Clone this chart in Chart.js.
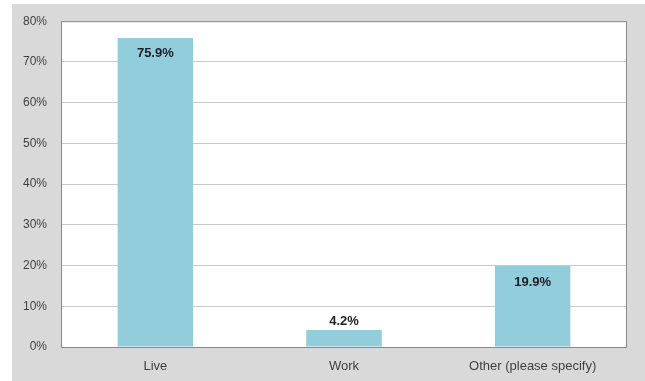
<!DOCTYPE html>
<html>
<head>
<meta charset="utf-8">
<script src="https://cdn.jsdelivr.net/npm/chart.js@4/dist/chart.umd.min.js"></script>
<style>
  body { margin: 0; background: #fff; }
  canvas { display: block; }
</style>
</head>
<body>
<canvas id="myChart" width="645" height="381"></canvas>
<script>
// answers to "live or work" question, in percent
const categories = ['Live', 'Work', 'Other (please specify)']
const shares = [75.9, 4.2, 19.9]
const yTicks = [0, 10, 20, 30, 40, 50, 60, 70, 80]

const FONT = "'Liberation Sans', Arial, sans-serif"

// grey chart background, white plot area with a grey frame round it
const plotBox = {
  id: 'plotBox',
  beforeDraw(chart) {
    const a = chart.chartArea, ctx = chart.ctx
    ctx.save()
    ctx.fillStyle = '#d9d9d9'
    ctx.fillRect(12, 4, chart.width - 12, chart.height - 4)
    ctx.fillStyle = '#ffffff'
    ctx.fillRect(a.left, a.top, a.right - a.left, a.bottom - a.top)
    ctx.restore()
  },
  afterDraw(chart) {
    const a = chart.chartArea, ctx = chart.ctx
    ctx.save()
    ctx.strokeStyle = '#8a8a8a'
    ctx.lineWidth = 1
    ctx.strokeRect(a.left + 0.5, a.top + 0.5, a.right - a.left - 1, a.bottom - a.top)
    ctx.restore()
  }
}

// value labels: inside the top of tall bars, above short ones
const valueLabels = {
  id: 'valueLabels',
  afterDatasetsDraw(chart) {
    const ctx = chart.ctx
    const meta = chart.getDatasetMeta(0)
    ctx.save()
    ctx.font = 'bold 13px ' + FONT
    ctx.fillStyle = '#1e1e28'
    ctx.textAlign = 'center'
    ctx.textBaseline = 'middle'
    meta.data.forEach((bar, i) => {
      const h = bar.base - bar.y
      const y = h > 30 ? bar.y + 16 : bar.y - 8
      ctx.fillText(shares[i].toFixed(1) + '%', bar.x, y)
    })
    ctx.restore()
  }
}

const ctx = document.getElementById('myChart').getContext('2d')
const chart = new Chart(ctx, {
  type: 'bar',
  data: {
    labels: categories,
    datasets: [{
      data: shares,
      backgroundColor: '#92cddc',
      borderWidth: 0,
      barPercentage: 0.4,
      categoryPercentage: 1.0
    }]
  },
  options: {
    responsive: false,
    animation: false,
    layout: { padding: { left: 12, right: 18, top: 21, bottom: 0 } },
    plugins: { legend: { display: false }, tooltip: { enabled: false } },
    scales: {
      x: {
        grid: { display: false, drawTicks: false },
        border: { display: false },
        ticks: { color: '#404040', font: { family: FONT, size: 13 }, padding: 12 },
        afterFit(scale) { scale.height = 34 }
      },
      y: {
        min: 0,
        max: 80,
        afterBuildTicks(scale) { scale.ticks = yTicks.map(v => ({ value: v })) },
        grid: { color: '#c8c8c8', drawTicks: false },
        border: { display: false },
        ticks: {
          color: '#404040',
          font: { family: FONT, size: 12 },
          padding: 14,
          callback: v => v + '%'
        },
        afterFit(scale) { scale.width = 49 }
      }
    }
  },
  plugins: [plotBox, valueLabels]
})
</script>
</body>
</html>
